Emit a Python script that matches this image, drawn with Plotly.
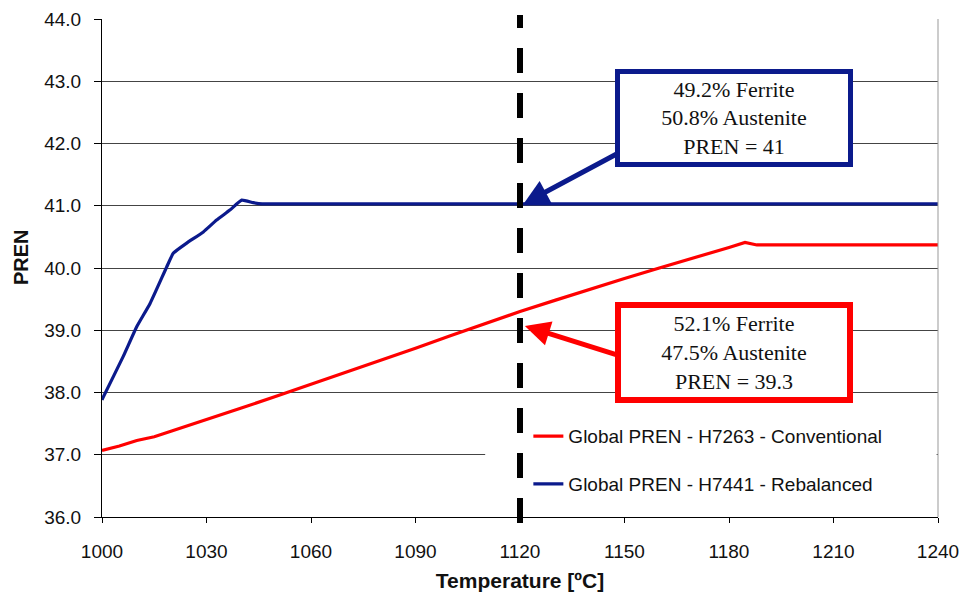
import plotly.graph_objects as go

# Data
temp_blue = [1000, 1000.4, 1006.1, 1010, 1013.8, 1018.6, 1020.5, 1024.3, 1029.1, 1032.9, 1036.7, 1040.1, 1043.4, 1046, 1240]
pren_blue = [37.88, 37.93, 38.58, 39.06, 39.43, 40.02, 40.24, 40.40, 40.58, 40.77, 40.93, 41.09, 41.05, 41.03, 41.03]

temp_red = [1000, 1005, 1010, 1015, 1020, 1030, 1040, 1050, 1060, 1070, 1080, 1090, 1100, 1110,
            1120, 1130, 1140, 1150, 1160, 1170, 1180, 1184.6, 1188, 1240]
pren_red = [37.07, 37.14, 37.23, 37.29, 37.38, 37.56, 37.75, 37.94, 38.13, 38.32, 38.51, 38.71, 38.91, 39.11,
            39.30, 39.48, 39.66, 39.83, 40.00, 40.16, 40.33, 40.41, 40.37, 40.37]

name_red = "Global PREN - H7263 - Conventional"
name_blue = "Global PREN - H7441 - Rebalanced"

x_ticks = [1000, 1030, 1060, 1090, 1120, 1150, 1180, 1210, 1240]
y_ticks = [36, 37, 38, 39, 40, 41, 42, 43, 44]

marker_temp = 1120
blue_text = "49.2% Ferrite<br>50.8% Austenite<br>PREN = 41"
red_text = "52.1% Ferrite<br>47.5% Austenite<br>PREN = 39.3"

RED = "#ff0000"
BLUE = "#0b1a8c"
SANS = "Liberation Sans, Arial, sans-serif"
SERIF = "Liberation Serif, Times New Roman, serif"

fig = go.Figure()
fig.add_trace(go.Scatter(x=temp_red, y=pren_red, mode="lines", name=name_red,
                         line=dict(color=RED, width=3.2), legendgroup="a"))
fig.add_trace(go.Scatter(x=temp_blue, y=pren_blue, mode="lines", name=name_blue,
                         line=dict(color=BLUE, width=3.2, shape="spline", smoothing=0.4), legendgroup="b"))

# white patch behind the legend (covers gridline)
fig.add_shape(type="rect", xref="x", yref="y", x0=1110, x1=1239.6, y0=36.25, y1=37.65,
              fillcolor="white", line=dict(width=0), layer="between")

# dashed vertical marker
fig.add_shape(type="line", xref="x", yref="paper", x0=marker_temp, x1=marker_temp,
              y0=-0.012, y1=1.008, line=dict(color="black", width=6, dash="25px,20px"), layer="above")

# arrows
fig.add_annotation(x=1121.0, y=41.03, ax=1148.7, ay=41.86, axref="x", ayref="y", xref="x", yref="y",
                   text="", showarrow=True, arrowhead=2, arrowsize=1.0, arrowwidth=5, arrowcolor=BLUE)
fig.add_annotation(x=1121.4, y=39.07, ax=1148.7, ay=38.59, axref="x", ayref="y", xref="x", yref="y",
                   text="", showarrow=True, arrowhead=2, arrowsize=1.0, arrowwidth=5, arrowcolor=RED)

# boxes
fig.add_annotation(x=1181.4, y=42.41, xref="x", yref="y", text=blue_text, showarrow=False,
                   font=dict(family=SERIF, size=22, color="#111111"), align="center",
                   bgcolor="white", bordercolor=BLUE, borderwidth=5, borderpad=0,
                   width=228, height=88)
fig.add_annotation(x=1181.4, y=38.64, xref="x", yref="y", text=red_text, showarrow=False,
                   font=dict(family=SERIF, size=22, color="#111111"), align="center",
                   bgcolor="white", bordercolor=RED, borderwidth=6, borderpad=0,
                   width=226, height=89)

# y-axis title
fig.add_annotation(x=-0.0969, y=0.522, xref="paper", yref="paper", text="<b>PREN</b>",
                   textangle=-90, showarrow=False, xanchor="center", yanchor="middle",
                   font=dict(family=SANS, size=20, color="#111111"))

fig.update_layout(
    width=965, height=595,
    margin=dict(l=102, r=27, t=19, b=78, autoexpand=False),
    plot_bgcolor="white", paper_bgcolor="white",
    showlegend=True,
    legend=dict(x=0.51, y=0.114, xanchor="left", yanchor="middle", bgcolor="rgba(0,0,0,0)",
                font=dict(family=SANS, size=19, color="#111111"), tracegroupgap=20,
                itemwidth=30),
    font=dict(family=SANS, color="#111111"),
)
fig.update_xaxes(range=[1000, 1240], tickvals=x_ticks, ticktext=[str(v) for v in x_ticks],
                 automargin=False,
                 showgrid=False, zeroline=False, showline=True, linecolor="black", linewidth=1,
                 ticks="outside", ticklen=5, tickcolor="black", tickfont=dict(family=SANS, size=19),
                 ticklabelstandoff=12,
                 title=dict(text="<b>Temperature [ºC]</b>", font=dict(family=SANS, size=21), standoff=12))
fig.update_yaxes(range=[36, 44], tickvals=y_ticks, ticktext=[f"{v:.1f}" for v in y_ticks],
                 automargin=False,
                 showgrid=True, gridcolor="#444444", gridwidth=1, zeroline=False,
                 showline=True, linecolor="black", linewidth=1, mirror=False,
                 ticks="outside", ticklen=7, tickcolor="black", tickfont=dict(family=SANS, size=19),
                 ticklabelstandoff=9)
# right border line
fig.add_shape(type="line", xref="paper", yref="paper", x0=1, x1=1, y0=0, y1=1,
              line=dict(color="#999999", width=1), layer="above")

fig.write_html("out.html")
